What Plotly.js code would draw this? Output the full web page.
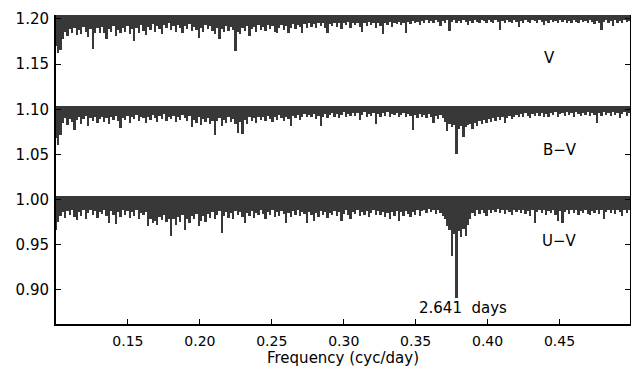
<!DOCTYPE html>
<html>
<head>
<meta charset="utf-8">
<script src="https://cdn.plot.ly/plotly-3.0.1.min.js"></script>
<style>html,body{margin:0;padding:0;background:#fff;}#chart{width:631px;height:367px;}</style>
</head>
<body>
<div id="chart"></div>
<script>
// Frequency grid (cyc/day)
const freqStart = 0.1;
const freqStep = 0.0016;

// Series maxima (theta levels incl. offsets)
const seriesNames = ["V", "B\u2212V", "U\u2212V"];
const seriesTops = [1.204, 1.104, 1.004];

const vValues = [
1.170,1.162,1.166,1.178,1.186,1.181,1.189,1.184,1.190,1.182,
1.188,1.183,1.191,1.186,1.180,1.189,1.167,1.185,1.190,1.184,
1.191,1.185,1.178,1.189,1.186,1.192,1.181,1.188,1.184,1.190,
1.186,1.192,1.183,1.189,1.176,1.190,1.185,1.193,1.187,1.182,
1.191,1.188,1.194,1.186,1.192,1.189,1.183,1.193,1.190,1.195,
1.188,1.192,1.186,1.193,1.190,1.184,1.192,1.189,1.194,1.187,
1.191,1.188,1.179,1.190,1.186,1.193,1.189,1.192,1.187,1.183,
1.190,1.178,1.189,1.186,1.192,1.187,1.191,1.188,1.165,1.186,
1.183,1.190,1.187,1.192,1.181,1.189,1.191,1.186,1.193,1.188,
1.191,1.187,1.193,1.189,1.192,1.186,1.184,1.190,1.193,1.188,
1.192,1.184,1.190,1.194,1.189,1.193,1.191,1.184,1.194,1.190,
1.195,1.191,1.194,1.190,1.196,1.192,1.195,1.190,1.184,1.194,
1.192,1.196,1.191,1.195,1.189,1.196,1.193,1.197,1.190,1.195,
1.193,1.196,1.191,1.186,1.195,1.192,1.197,1.193,1.196,1.190,
1.195,1.192,1.183,1.196,1.193,1.197,1.191,1.196,1.194,1.197,
1.193,1.196,1.185,1.197,1.194,1.198,1.195,1.197,1.193,1.198,
1.196,1.199,1.195,1.198,1.196,1.199,1.197,1.192,1.198,1.196,
1.199,1.187,1.197,1.199,1.196,1.198,1.195,1.199,1.197,1.193,
1.198,1.196,1.199,1.197,1.195,1.199,1.198,1.196,1.199,1.197,
1.196,1.199,1.197,1.188,1.198,1.196,1.199,1.197,1.195,1.199,
1.197,1.191,1.198,1.196,1.199,1.197,1.195,1.199,1.198,1.196,
1.199,1.197,1.193,1.198,1.196,1.199,1.197,1.198,1.195,1.199,
1.197,1.199,1.196,1.198,1.195,1.199,1.197,1.196,1.199,1.197,
1.198,1.196,1.199,1.197,1.194,1.198,1.196,1.188,1.197,1.199,
1.196,1.198,1.192,1.199,1.196,1.198,1.195,1.199,1.197,1.198
];

const bvValues = [
1.068,1.060,1.072,1.085,1.090,1.083,1.089,1.086,1.077,1.088,
1.091,1.084,1.089,1.093,1.082,1.090,1.087,1.092,1.085,1.089,
1.092,1.086,1.090,1.084,1.091,1.088,1.093,1.087,1.079,1.090,
1.088,1.093,1.085,1.091,1.089,1.094,1.087,1.092,1.090,1.085,
1.092,1.088,1.094,1.090,1.086,1.093,1.089,1.095,1.087,1.092,
1.089,1.093,1.086,1.092,1.088,1.094,1.090,1.087,1.093,1.080,
1.088,1.085,1.091,1.083,1.089,1.086,1.090,1.084,1.087,1.071,
1.087,1.090,1.082,1.088,1.085,1.091,1.086,1.089,1.084,1.074,
1.086,1.073,1.088,1.084,1.091,1.087,1.090,1.085,1.092,1.088,
1.091,1.087,1.093,1.089,1.086,1.092,1.088,1.094,1.090,1.087,
1.092,1.089,1.082,1.093,1.090,1.094,1.088,1.092,1.095,1.091,
1.094,1.091,1.095,1.089,1.093,1.082,1.092,1.095,1.090,1.094,
1.096,1.092,1.095,1.090,1.094,1.097,1.091,1.095,1.093,1.096,
1.093,1.096,1.088,1.094,1.097,1.092,1.095,1.093,1.096,1.084,
1.095,1.092,1.096,1.093,1.097,1.091,1.095,1.094,1.096,1.092,
1.094,1.096,1.091,1.095,1.093,1.077,1.094,1.090,1.095,1.092,
1.094,1.090,1.095,1.091,1.085,1.093,1.089,1.094,1.090,1.086,
1.076,1.084,1.080,1.083,1.051,1.078,1.082,1.069,1.080,1.083,
1.084,1.078,1.085,1.082,1.087,1.084,1.088,1.085,1.089,1.086,
1.090,1.087,1.091,1.088,1.092,1.085,1.090,1.093,1.089,1.092,
1.094,1.091,1.095,1.092,1.096,1.093,1.090,1.095,1.093,1.096,
1.093,1.096,1.092,1.095,1.091,1.096,1.094,1.097,1.092,1.095,
1.096,1.093,1.097,1.094,1.096,1.092,1.097,1.095,1.093,1.096,
1.094,1.097,1.093,1.096,1.094,1.085,1.096,1.093,1.097,1.094,
1.096,1.093,1.097,1.094,1.096,1.090,1.095,1.097,1.093,1.096
];

const uvValues = [
0.966,0.975,0.982,0.986,0.980,0.987,0.983,0.988,0.981,0.977,
0.986,0.982,0.988,0.979,0.985,0.989,0.983,0.987,0.980,0.986,
0.984,0.988,0.982,0.974,0.987,0.983,0.973,0.986,0.981,0.988,
0.983,0.987,0.980,0.986,0.982,0.988,0.978,0.985,0.983,0.986,
0.971,0.979,0.974,0.976,0.972,0.981,0.977,0.983,0.975,0.979,
0.960,0.978,0.972,0.981,0.975,0.983,0.966,0.979,0.974,0.982,
0.979,0.984,0.971,0.976,0.982,0.975,0.984,0.980,0.986,0.978,
0.983,0.987,0.963,0.982,0.986,0.980,0.985,0.979,0.987,0.983,
0.986,0.981,0.974,0.985,0.982,0.987,0.980,0.985,0.983,0.988,
0.984,0.979,0.986,0.983,0.988,0.981,0.986,0.982,0.987,0.984,
0.974,0.985,0.981,0.987,0.983,0.988,0.982,0.986,0.984,0.974,
0.986,0.983,0.976,0.985,0.981,0.987,0.983,0.986,0.980,0.985,
0.983,0.987,0.982,0.986,0.976,0.984,0.988,0.983,0.979,0.986,
0.984,0.988,0.982,0.986,0.983,0.987,0.981,0.985,0.988,0.983,
0.987,0.983,0.986,0.981,0.985,0.979,0.986,0.982,0.987,0.976,
0.986,0.982,0.987,0.984,0.981,0.986,0.983,0.988,0.982,0.987,
0.989,0.985,0.990,0.986,0.989,0.984,0.988,0.985,0.982,0.979,
0.971,0.966,0.938,0.962,0.891,0.965,0.958,0.967,0.960,0.972,
0.978,0.985,0.982,0.988,0.984,0.989,0.985,0.982,0.988,0.985,
0.989,0.986,0.990,0.985,0.988,0.984,0.989,0.986,0.983,0.988,
0.986,0.989,0.985,0.988,0.984,0.987,0.982,0.988,0.974,0.986,
0.989,0.985,0.988,0.983,0.987,0.985,0.989,0.983,0.976,0.987,
0.974,0.986,0.989,0.984,0.988,0.985,0.989,0.983,0.987,0.985,
0.988,0.984,0.983,0.987,0.985,0.989,0.984,0.988,0.979,0.986,
0.989,0.985,0.988,0.984,0.989,0.986,0.982,0.988,0.985,0.989
];

const xTickVals = [0.15, 0.20, 0.25, 0.30, 0.35, 0.40, 0.45];
const yTickVals = [0.90, 0.95, 1.00, 1.05, 1.10, 1.15, 1.20];
const xTitle = "Frequency (cyc/day)";
const periodLabel = "2.641\u00a0\u00a0days";
const periodDays = 2.641;

const allValues = [vValues, bvValues, uvValues];
const freqs = vValues.map((_, i) => +(freqStart + i * freqStep).toFixed(5));

const traces = allValues.map((vals, k) => ({
  type: "bar",
  x: freqs,
  y: vals.map(v => v - seriesTops[k]),
  base: seriesTops[k],
  width: freqStep,
  marker: {color: "#383838", line: {width: 0}},
  name: seriesNames[k],
  showlegend: false,
  hoverinfo: "skip"
}));

const fontFam = "DejaVu Sans, sans-serif";
const layout = {
  width: 631, height: 367,
  margin: {l: 56, r: 1, t: 15, b: 43},
  paper_bgcolor: "#fff", plot_bgcolor: "#fff",
  barmode: "overlay", bargap: 0,
  font: {family: fontFam, size: 15, color: "#000"},
  xaxis: {
    range: [0.1, 0.499],
    tickvals: xTickVals,
    ticktext: xTickVals.map(v => v.toFixed(2)),
    tickfont: {size: 14},
    ticks: "inside", ticklen: 5, tickwidth: 1, tickcolor: "#000",
    ticklabelstandoff: 3,
    showline: true, linewidth: 2, linecolor: "#000",
    showgrid: false, zeroline: false
  },
  yaxis: {
    range: [0.8622, 1.2044],
    tickvals: yTickVals,
    ticktext: yTickVals.map(v => v.toFixed(2)),
    tickfont: {size: 15},
    ticks: "inside", ticklen: 5, tickwidth: 1, tickcolor: "#000",
    ticklabelstandoff: 2,
    showline: true, linewidth: 2, linecolor: "#000", mirror: "ticks",
    showgrid: false, zeroline: false
  },
  annotations: [
    {x: 0.5, y: -0.1085, xref: "paper", yref: "paper", text: xTitle, showarrow: false, yanchor: "middle", font: {size: 15}},
    {x: 0.443, y: 1.1567, text: seriesNames[0], showarrow: false, xref: "x", yref: "y", font: {size: 15}},
    {x: 0.450, y: 1.0544, text: seriesNames[1], showarrow: false, xref: "x", yref: "y", font: {size: 15}},
    {x: 0.450, y: 0.9544, text: seriesNames[2], showarrow: false, xref: "x", yref: "y", font: {size: 15}},
    {x: 1 / periodDays + 0.0041, y: 0.880, text: periodLabel, showarrow: false, xref: "x", yref: "y", font: {size: 15}}
  ]
};

Plotly.newPlot("chart", traces, layout, {displayModeBar: false, staticPlot: true});
</script>
</body>
</html>
